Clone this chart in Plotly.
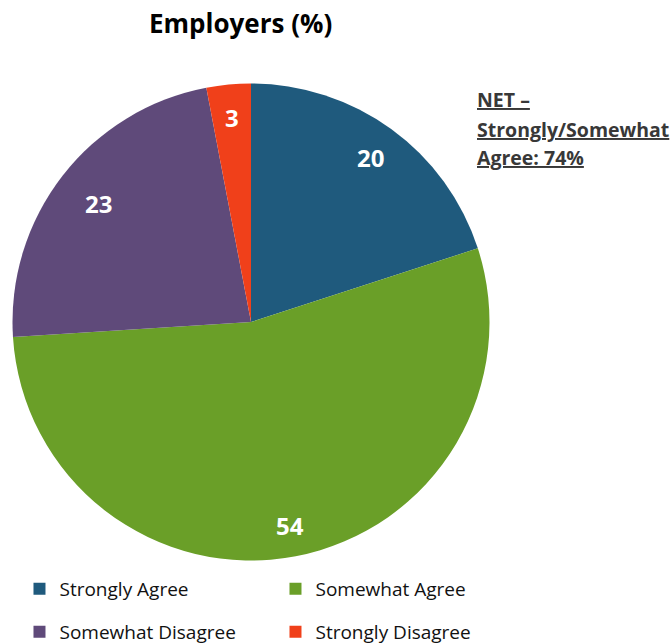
import math
import plotly.graph_objects as go

labels = ["Strongly Agree", "Somewhat Agree", "Somewhat Disagree", "Strongly Disagree"]
values = [20, 54, 23, 3]
colors = ["#1F5A7D", "#6A9F28", "#5F4A7A", "#F0401A"]
title_text = "Employers (%)"
net_lines = ["NET \u2013", "Strongly/Somewhat", "Agree: 74%"]

FONT = "'Open Sans', sans-serif"
W, H = 672, 644
cx, cy, r = 251, 322, 238.5
label_radius = [0.855, 0.87, 0.81, 0.86]  # radial placement of value labels (style)

fig = go.Figure()
fig.add_trace(go.Pie(
    labels=labels, values=values, sort=False, direction="clockwise", rotation=0,
    marker=dict(colors=colors, line=dict(width=0)),
    textinfo="none", hoverinfo="label+value", showlegend=False,
    domain=dict(x=[(cx - r) / W, (cx + r) / W], y=[1 - (cy + r) / H, 1 - (cy - r) / H]),
))

# value labels placed at slice mid-angles
total = sum(values)
cum = 0
for v, fr in zip(values, label_radius):
    mid = (cum + v / 2) / total * 2 * math.pi
    cum += v
    rr = fr * r
    px = cx + rr * math.sin(mid)
    py = cy - rr * math.cos(mid)
    fig.add_annotation(x=px / W, y=1 - py / H, xref="paper", yref="paper",
                       xanchor="center", yanchor="middle",
                       text=f"<b>{v}</b>", showarrow=False,
                       font=dict(family=FONT, size=24, color="white"))

# legend via proxy traces (two rows)
for i, (lab, col) in enumerate(zip(labels, colors)):
    fig.add_trace(go.Scatter(
        x=[None], y=[None], mode="markers", name=lab,
        marker=dict(symbol="square", size=12, color=col),
        legend="legend" if i < 2 else "legend2", hoverinfo="skip",
    ))

legend_common = dict(orientation="h", xanchor="left", yanchor="middle",
                     font=dict(family=FONT, size=19, color="#111111"),
                     entrywidth=211, entrywidthmode="pixels",
                     bgcolor="rgba(0,0,0,0)", borderwidth=0, itemclick=False)
fig.update_layout(
    legend=dict(x=0.029, y=1 - 589 / H, **legend_common),
    legend2=dict(x=0.029, y=1 - 632 / H, **legend_common),
)

fig.add_annotation(x=240 / W, y=1 - 23 / H, xref="paper", yref="paper",
                   xanchor="center", yanchor="middle",
                   text=f"<b>{title_text}</b>", showarrow=False,
                   font=dict(family=FONT, size=26, color="black"))

for i, line in enumerate(net_lines):
    fig.add_annotation(x=475 / W, y=1 - (100 + 29 * i) / H, xref="paper", yref="paper",
                       xanchor="left", yanchor="middle",
                       text=f"<b>{line}</b>", showarrow=False,
                       font=dict(family=FONT, size=19.5, color="#383838", lineposition="under"))

fig.update_layout(
    width=W, height=H, margin=dict(l=0, r=0, t=0, b=0, autoexpand=False),
    paper_bgcolor="white", plot_bgcolor="white",
    xaxis=dict(visible=False), yaxis=dict(visible=False),
)

fig.write_html("out.html", config={"displayModeBar": False},
               post_script="document.body.style.margin='0';")
